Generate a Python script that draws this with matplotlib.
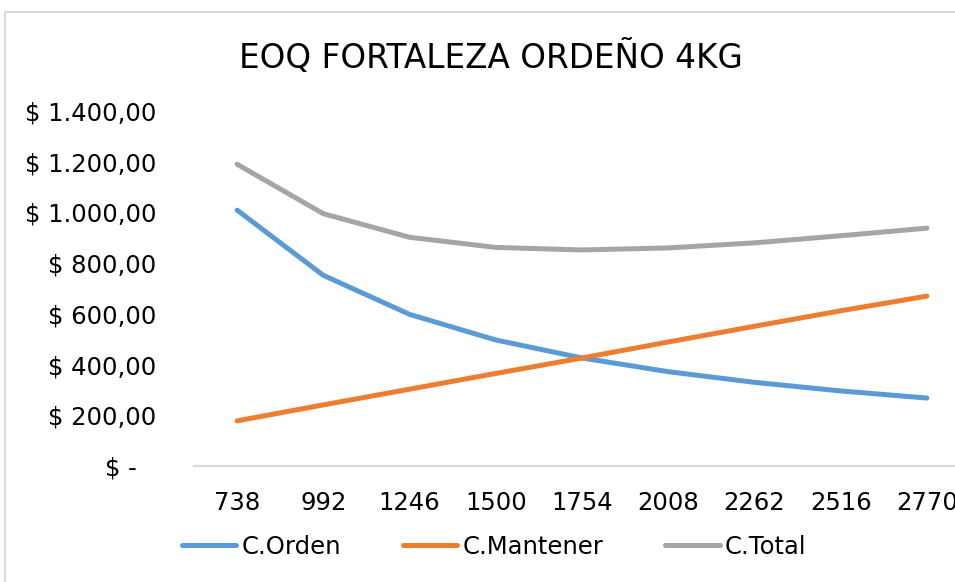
import matplotlib
matplotlib.use("Agg")
import matplotlib.pyplot as plt
from matplotlib.patches import Rectangle
from matplotlib.transforms import ScaledTranslation

plt.rcParams['font.family'] = ['DejaVu Sans']

categories = ["738", "992", "1246", "1500", "1754", "2008", "2262", "2516", "2770"]
c_orden = [1009, 752, 598, 497, 426, 372, 330, 296, 268]
c_mantener = [178, 241, 303, 365, 426, 489, 551, 612, 670]
c_total = [1190, 995, 902, 862, 852, 860, 880, 908, 938]
yticks = [0, 200, 400, 600, 800, 1000, 1200, 1400]
ytick_labels = ["$ -", "$ 200,00", "$ 400,00", "$ 600,00", "$ 800,00",
                "$ 1.000,00", "$ 1.200,00", "$ 1.400,00"]
series_names = ["C.Orden", "C.Mantener", "C.Total"]

W, H = 955, 582
fig = plt.figure(figsize=(W / 100, H / 100), dpi=100)

# chart border
fig.patches.append(Rectangle((5 / W, -0.1), 1.2, (H - 12) / H + 0.1,
                             transform=fig.transFigure, fill=False,
                             edgecolor="#d9d9d9", linewidth=1.5))

ax = fig.add_axes([194 / W, 116 / H, 776 / W, 355 / H])
x = list(range(len(categories)))
colors = ["#5B9BD5", "#ED7D31", "#A5A5A5"]
for vals, name, col in zip([c_orden, c_mantener, c_total], series_names, colors):
    ax.plot(x, vals, color=col, linewidth=3.6, solid_capstyle="round",
            solid_joinstyle="round", label=name)

ax.set_xlim(-0.5, len(categories) - 0.5)
ax.set_ylim(0, 1400)
ax.set_xticks(x)
ax.set_xticklabels(categories, fontsize=17.5)
ax.set_yticks(yticks)
ax.set_yticklabels(ytick_labels, fontsize=17.5)
ax.tick_params(axis="both", length=0)
ax.tick_params(axis="x", pad=18)
ax.tick_params(axis="y", pad=27)
for s in ["top", "right", "left"]:
    ax.spines[s].set_visible(False)
ax.spines["bottom"].set_color("#d9d9d9")
ax.spines["bottom"].set_linewidth(1.5)
ax.patch.set_alpha(0)

# zero label in accounting format sits further left
lbl0 = ax.get_yticklabels()[0]
lbl0.set_transform(lbl0.get_transform() + ScaledTranslation(-0.2, 0, fig.dpi_scale_trans))

fig.text(491 / W, 1 - 57 / H, "EOQ FORTALEZA ORDEÑO 4KG", ha="center", va="center",
         fontsize=23.5)

leg = fig.legend(loc="center", bbox_to_anchor=(494 / W, 1 - 547 / H), ncol=3,
                 frameon=False, fontsize=17.5, handlelength=2.25, handletextpad=0.2,
                 columnspacing=2.55)
for line in leg.get_lines():
    line.set_linewidth(3.6)

fig.savefig("out.png", dpi=100)
